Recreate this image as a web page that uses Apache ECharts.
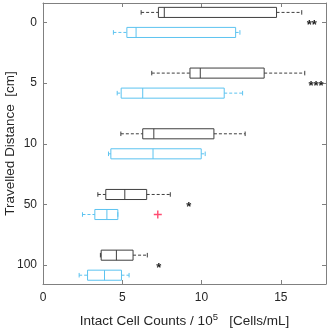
<!DOCTYPE html>
<html>
<head>
<meta charset="utf-8">
<script src="https://cdn.jsdelivr.net/npm/echarts@6/dist/echarts.min.js"></script>
<style>
  html, body { margin: 0; padding: 0; background: #fff; }
  #chart { width: 331px; height: 329px; }
</style>
</head>
<body>
<div id="chart"></div>
<script>
// travelled distance categories (cm)
const distances = ["0", "5", "10", "50", "100"];
// box stats per distance: [min, q1, median, q3, max] (x 10^5 cells/mL)
const darkStats = [
  [6.19, 7.28, 7.65, 14.73, 16.32],
  [6.86, 9.27, 9.92, 13.95, 16.51],
  [4.91, 6.29, 6.99, 10.78, 12.75],
  [3.46, 3.96, 5.16, 6.54, 8.03],
  [3.62, 3.67, 4.63, 5.68, 6.58],
];
const blueStats = [
  [4.44, 5.29, 5.87, 12.15, 12.42],
  [4.68, 4.93, 6.29, 11.43, 12.59],
  [4.13, 4.28, 6.94, 9.98, 10.23],
  [2.49, 3.27, 4.03, 4.72, 4.72],
  [2.28, 2.81, 3.88, 4.95, 5.43],
];
// outliers of the blue boxes: [value, distance index]
const blueOutliers = [[7.24, 3]];
// significance marks
const starLabels = ["**", "***", "*", "*"];
const starX = [16.95, 17.22, 9.19, 7.31];
const starPos = [0, 1, 3, 4];
const xTicks = [0, 5, 10, 15];

const font = "'Liberation Sans', Arial, sans-serif";
const frame = "#808080";
const textColor = "#262626";
const darkColor = "#3f3f3f";
const blueColor = "#5cc3f0";

function boxRenderer(offset, color) {
  return function (params, api) {
    const y = api.value(0) + offset;
    const half = api.size([0, 0.083])[1];
    const cap = half * 0.45;
    const pt = (i) => api.coord([api.value(i), y]);
    const pMin = pt(1), pQ1 = pt(2), pMed = pt(3), pQ3 = pt(4), pMax = pt(5);
    const cy = pMin[1];
    const solid = { stroke: color, lineWidth: 1, fill: "none" };
    const dashed = { stroke: color, lineWidth: 1, lineDash: [3, 2], fill: "none" };
    return {
      type: "group",
      children: [
        { type: "line", shape: { x1: pMin[0], y1: cy, x2: pQ1[0], y2: cy }, style: dashed },
        { type: "line", shape: { x1: pQ3[0], y1: cy, x2: pMax[0], y2: cy }, style: dashed },
        { type: "line", shape: { x1: pMin[0], y1: cy - cap, x2: pMin[0], y2: cy + cap }, style: solid },
        { type: "line", shape: { x1: pMax[0], y1: cy - cap, x2: pMax[0], y2: cy + cap }, style: solid },
        { type: "rect", shape: { x: pQ1[0], y: cy - half, width: pQ3[0] - pQ1[0], height: half * 2 }, style: solid },
        { type: "line", shape: { x1: pMed[0], y1: cy - half, x2: pMed[0], y2: cy + half }, style: solid },
      ],
    };
  };
}

const toData = (stats) => stats.map((s, i) => [i].concat(s));
const yTicks = distances.map((_d, i) => i);

const chart = echarts.init(document.getElementById("chart"));
const option = {
  animation: false,
  textStyle: { fontFamily: font },
  grid: { left: 43, right: 5, top: 3, bottom: 45, outerBoundsMode: "none", containLabel: false },
  xAxis: [
    {
      type: "value",
      min: 0,
      max: 17.85,
      position: "bottom",
      name: "{a|Intact Cell Counts / 10}{s|5}{a|   [Cells/mL]}",
      nameLocation: "middle",
      nameGap: 28,
      nameMoveOverlap: false,
      nameTextStyle: {
        rich: {
          a: { fontSize: 13.5, color: textColor, fontFamily: font },
          s: { fontSize: 9.5, color: textColor, fontFamily: font, padding: [0, 0, 8, 0] },
        },
      },
      axisLine: { onZero: false, lineStyle: { color: frame } },
      axisTick: { inside: true, length: 4, customValues: xTicks, lineStyle: { color: frame } },
      axisLabel: { customValues: xTicks, fontSize: 12, color: textColor, margin: 8 },
      splitLine: { show: false },
    },
    {
      type: "value",
      min: 0,
      max: 17.85,
      position: "top",
      axisLine: { onZero: false, lineStyle: { color: frame } },
      axisTick: { inside: true, length: 4, customValues: xTicks, lineStyle: { color: frame } },
      axisLabel: { show: false },
      splitLine: { show: false },
    },
  ],
  yAxis: [
    {
      type: "value",
      min: -0.32,
      max: 4.31,
      inverse: true,
      position: "left",
      name: "Travelled Distance  [cm]",
      nameLocation: "middle",
      nameGap: 26,
      nameMoveOverlap: false,
      nameTextStyle: { fontSize: 13.5, color: textColor },
      axisLine: { onZero: false, lineStyle: { color: frame } },
      axisTick: { inside: true, length: 4, customValues: yTicks, lineStyle: { color: frame } },
      axisLabel: {
        customValues: yTicks,
        fontSize: 12,
        color: textColor,
        margin: 6,
        formatter: (v) => distances[Math.round(v)],
      },
      splitLine: { show: false },
    },
    {
      type: "value",
      min: -0.32,
      max: 4.31,
      inverse: true,
      position: "right",
      axisLine: { onZero: false, lineStyle: { color: frame } },
      axisTick: { inside: true, length: 4, customValues: yTicks, lineStyle: { color: frame } },
      axisLabel: { show: false },
      splitLine: { show: false },
    },
  ],
  series: [
    {
      type: "custom",
      name: "dark",
      renderItem: boxRenderer(-0.165, darkColor),
      encode: { x: [1, 2, 3, 4, 5], y: 0 },
      data: toData(darkStats),
      silent: true,
    },
    {
      type: "custom",
      name: "blue",
      renderItem: boxRenderer(0.165, blueColor),
      encode: { x: [1, 2, 3, 4, 5], y: 0 },
      data: toData(blueStats),
      silent: true,
    },
    {
      type: "scatter",
      data: blueOutliers.map((o) => [o[0], o[1] + 0.165]),
      symbol: "path://M3,0h1.3v7.3h-1.3zM0,3h7.3v1.3h-7.3z",
      symbolSize: 8,
      itemStyle: { color: "#ff1f4f" },
      silent: true,
    },
    {
      type: "custom",
      renderItem: function (params, api) {
        const p = api.coord([api.value(0), api.value(1)]);
        return {
          type: "text",
          x: p[0],
          y: p[1] + 3,
          style: {
            text: starLabels[params.dataIndex],
            font: "bold 13px " + font,
            fill: "#222",
            textAlign: "center",
            textVerticalAlign: "middle",
          },
        };
      },
      data: starX.map((x, i) => [x, starPos[i]]),
      silent: true,
    },
  ],
};
chart.setOption(option);
</script>
</body>
</html>
